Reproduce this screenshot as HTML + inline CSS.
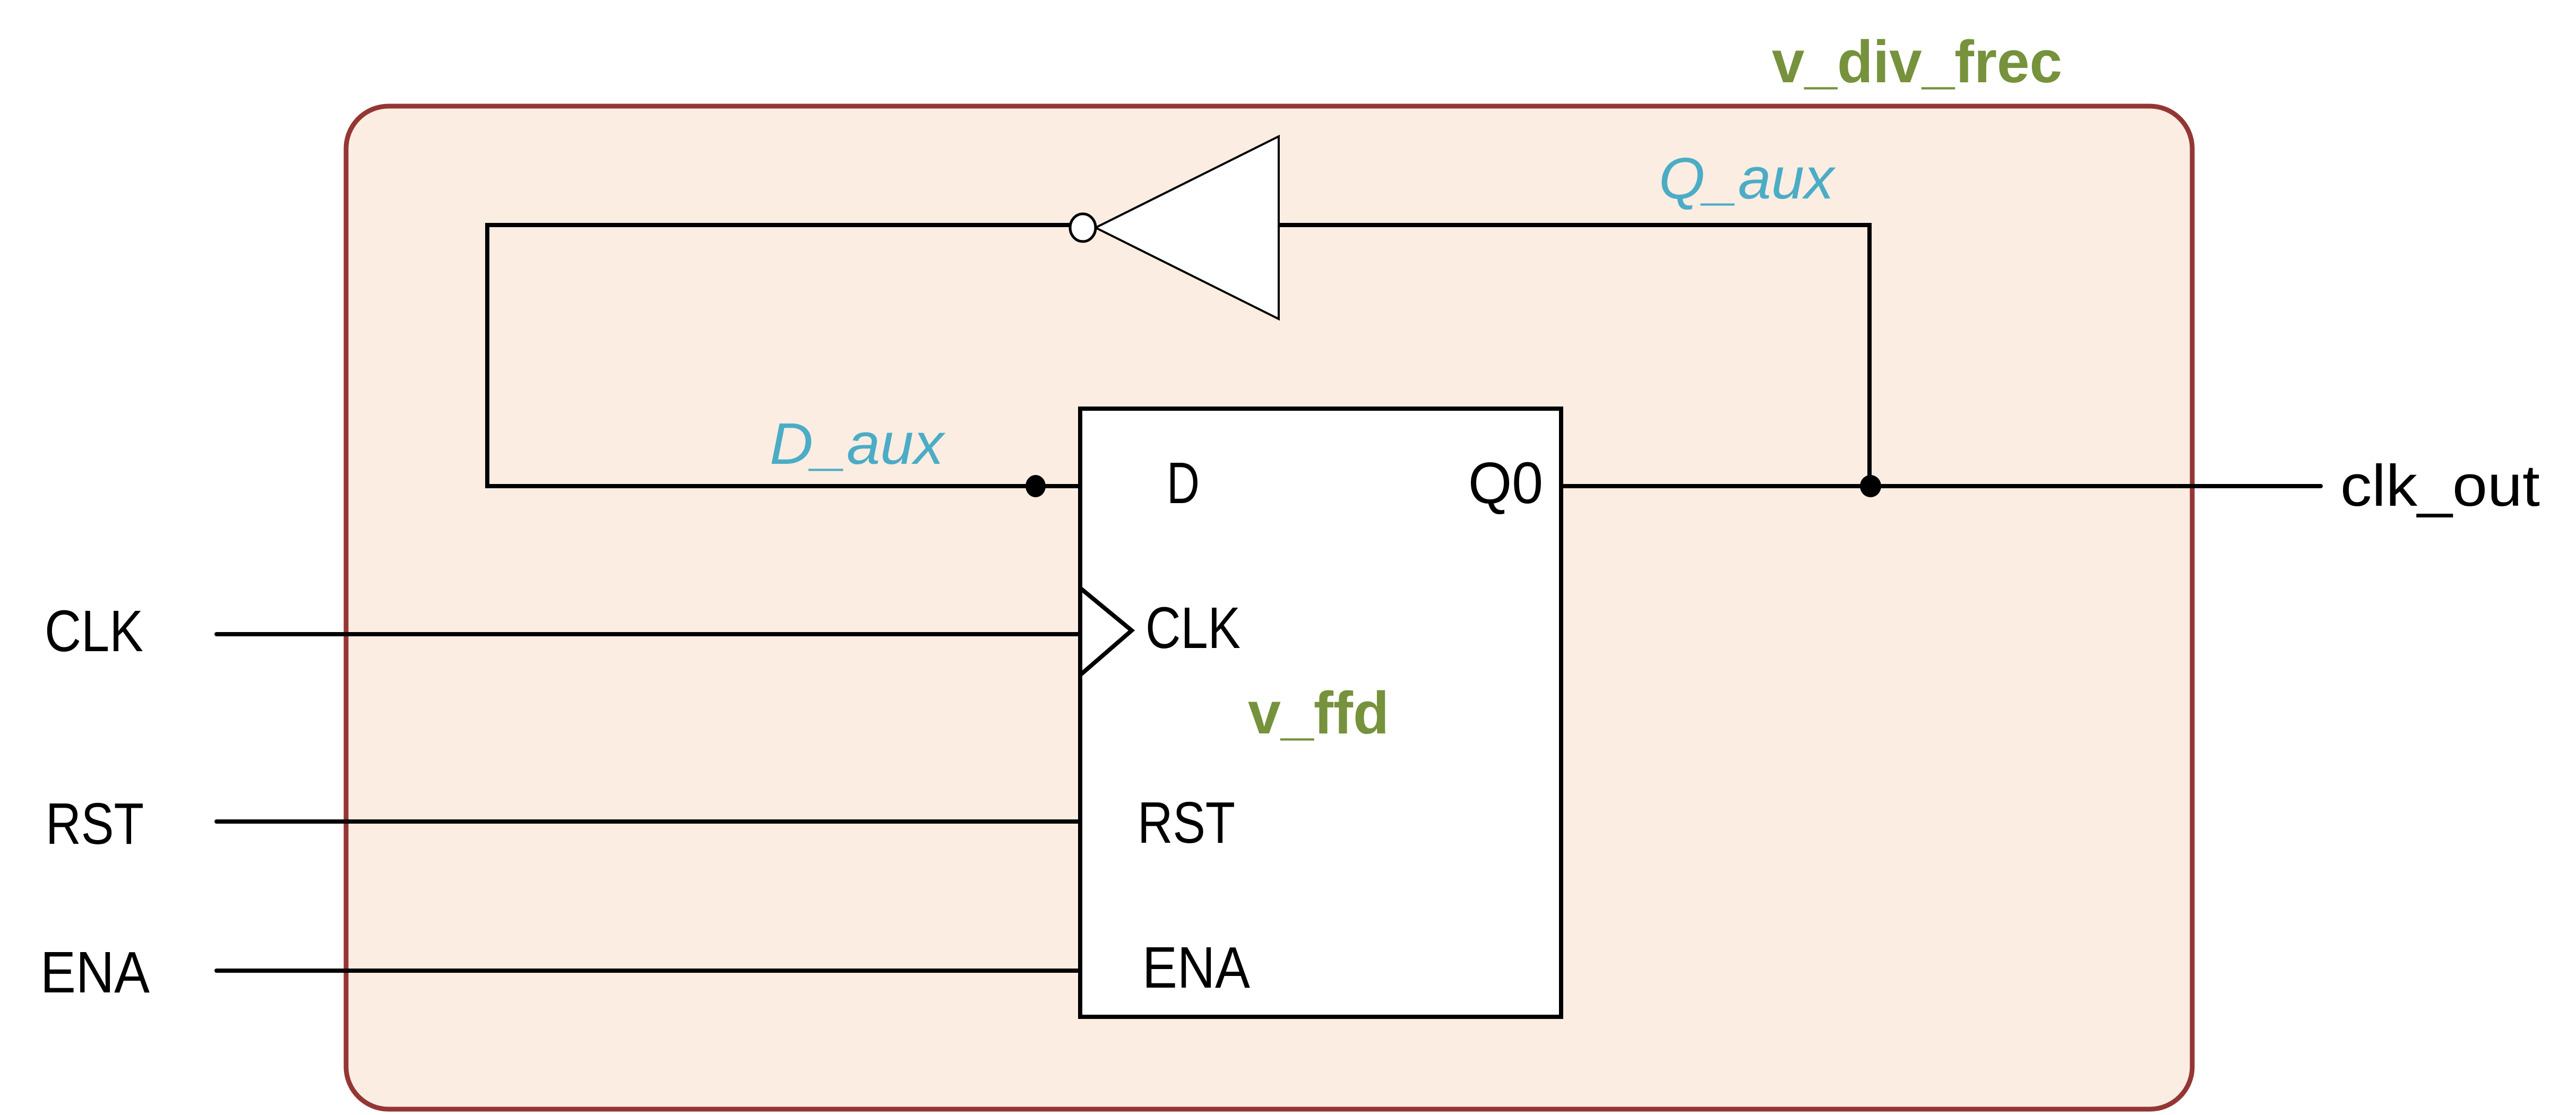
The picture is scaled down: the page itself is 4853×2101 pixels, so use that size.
<!DOCTYPE html>
<html><head><meta charset="utf-8"><style>html,body{margin:0;padding:0;background:#fff}svg{display:block}</style></head>
<body>
<svg width="4853" height="2101" viewBox="0 0 4853 2101" xmlns="http://www.w3.org/2000/svg" font-family="'Liberation Sans', sans-serif">
<rect x="652" y="200" width="3478" height="1890" rx="80" ry="80" fill="#FBEDE2" stroke="#943634" stroke-width="9"/>
<text x="3338" y="155" font-size="112" font-weight="bold" fill="#76923C" textLength="547" lengthAdjust="spacingAndGlyphs">v_div_frec</text>
<!-- FFD box -->
<rect x="2035" y="770" width="906" height="1146" fill="#fff" stroke="#000" stroke-width="8"/>
<polyline points="2035,1108 2132,1188 2035,1272" fill="none" stroke="#000" stroke-width="8"/>
<!-- loop wires -->
<polyline points="2035,916 918,916 918,424 2015,424" fill="none" stroke="#000" stroke-width="8"/>
<polyline points="2409,424 3522,424 3522,916" fill="none" stroke="#000" stroke-width="8"/>
<line x1="2941" y1="916" x2="4372" y2="916" stroke="#000" stroke-width="8" stroke-linecap="round"/>
<!-- inverter -->
<polygon points="2409,257 2409,601 2064,429" fill="#fff" stroke="#000" stroke-width="4"/>
<ellipse cx="2040" cy="429" rx="24" ry="26" fill="#fff" stroke="#000" stroke-width="5"/>
<!-- dots -->
<ellipse cx="1951" cy="916" rx="19" ry="21" fill="#000"/>
<ellipse cx="3524" cy="916" rx="20" ry="21" fill="#000"/>
<!-- input wires -->
<line x1="408" y1="1195" x2="2035" y2="1195" stroke="#000" stroke-width="8" stroke-linecap="round"/>
<line x1="408" y1="1548" x2="2035" y2="1548" stroke="#000" stroke-width="8" stroke-linecap="round"/>
<line x1="408" y1="1829" x2="2035" y2="1829" stroke="#000" stroke-width="8" stroke-linecap="round"/>
<!-- labels -->
<g font-size="110" fill="#000">
<text x="84" y="1227" textLength="186" lengthAdjust="spacingAndGlyphs">CLK</text>
<text x="86" y="1590" textLength="185" lengthAdjust="spacingAndGlyphs">RST</text>
<text x="76" y="1870" textLength="206" lengthAdjust="spacingAndGlyphs">ENA</text>
<text x="2198" y="948" textLength="62" lengthAdjust="spacingAndGlyphs">D</text>
<text x="2766" y="948" textLength="141" lengthAdjust="spacingAndGlyphs">Q0</text>
<text x="2158" y="1221" textLength="179" lengthAdjust="spacingAndGlyphs">CLK</text>
<text x="2143" y="1588" textLength="184" lengthAdjust="spacingAndGlyphs">RST</text>
<text x="2152" y="1861" textLength="203" lengthAdjust="spacingAndGlyphs">ENA</text>
<text x="4409" y="953" textLength="376" lengthAdjust="spacingAndGlyphs">clk_out</text>
</g>
<text x="2351" y="1382" font-size="112" font-weight="bold" fill="#76923C" textLength="266" lengthAdjust="spacingAndGlyphs">v_ffd</text>
<text x="1450" y="874" font-size="110" font-style="italic" fill="#4BACC6" textLength="328" lengthAdjust="spacingAndGlyphs">D_aux</text>
<text x="3125" y="374" font-size="110" font-style="italic" fill="#4BACC6" textLength="330" lengthAdjust="spacingAndGlyphs">Q_aux</text>
</svg>
</body></html>
